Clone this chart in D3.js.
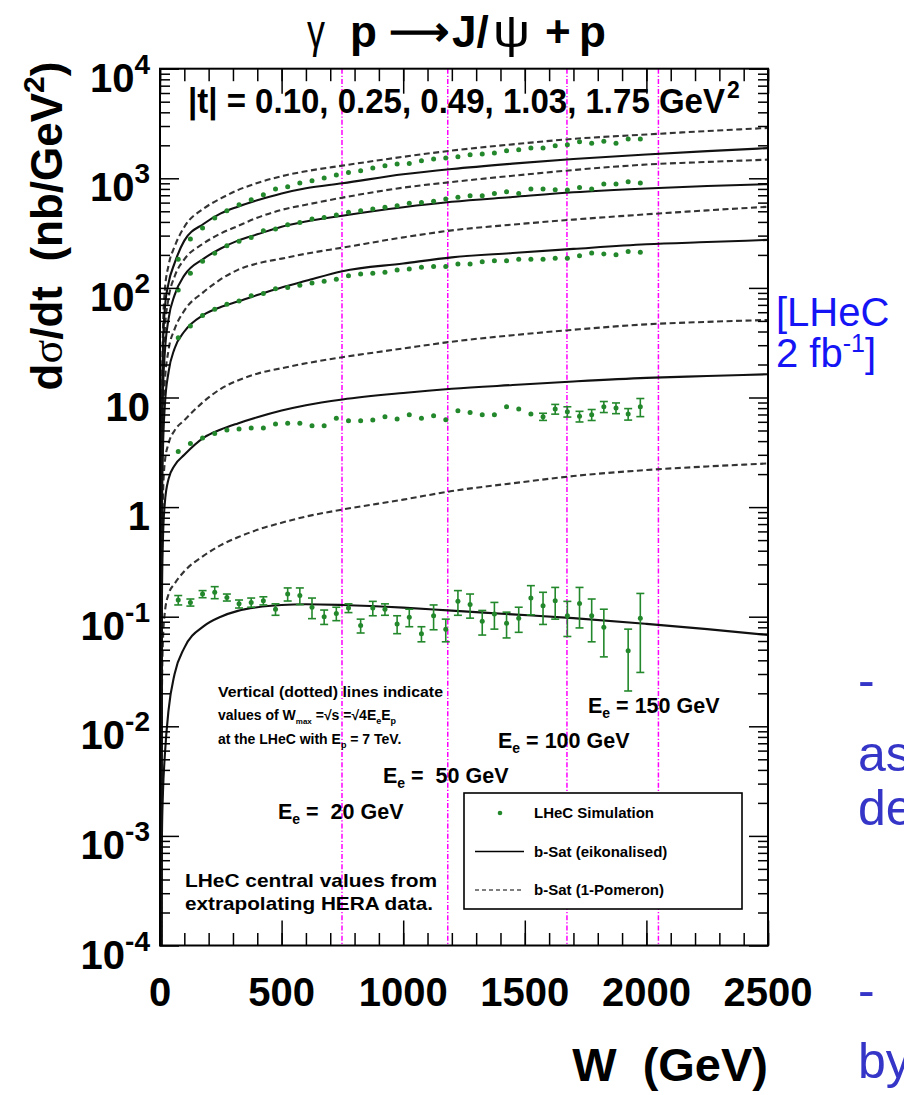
<!DOCTYPE html>
<html><head><meta charset="utf-8">
<script src="https://cdn.jsdelivr.net/npm/d3@7"></script>
<style>
body{margin:0;background:#fff}
svg{display:block}
text{font-family:"Liberation Sans",Arial,Helvetica,sans-serif}
</style>
</head><body>
<svg id="chart" width="904" height="1095"></svg>
<script>
// ---- data -------------------------------------------------------------
const tValues = [0.10, 0.25, 0.49, 1.03, 1.75];          // |t| in GeV^2
const beamEe = [20, 50, 100, 150];                       // electron beam energies (GeV)
const protonEp = 7000;                                   // proton beam energy (GeV)

// W grid (GeV) for the b-Sat model curves
const curveW = [4.5, 6, 8, 12, 20, 35, 60, 100, 180, 250, 320, 400, 500, 600, 750, 1000, 1200, 1450, 1700, 2000, 2250, 2500];

// b-Sat (1-Pomeron), dσ/dt in nb/GeV^2
const pomT010 = [2e-5, 0.5, 8, 40, 95, 160, 238, 360, 530, 655, 780, 905, 1045, 1160, 1305, 1570, 1790, 2040, 2290, 2510, 2700, 2880];
const pomT025 = [1e-5, 0.25, 4, 18, 42, 80, 127, 182, 255, 314, 367, 437, 515, 574, 666, 822, 925, 1055, 1190, 1335, 1410, 1480];
const pomT049 = [4e-6, 0.1, 1.5, 6, 14, 27, 42, 62, 92, 120, 146, 167, 185, 205, 233, 289, 335, 378, 420, 469, 510, 550];
const pomT103 = [1e-6, 0.02, 0.3, 1.2, 2.6, 3.8, 5.0, 6.2, 9.2, 12.0, 14.3, 16.5, 18.5, 20.5, 23.3, 28.0, 32.3, 37, 41.5, 46.5, 49, 51];
const pomT175 = [1e-7, 0.002, 0.02, 0.06, 0.11, 0.16, 0.2, 0.26, 0.36, 0.45, 0.53, 0.62, 0.72, 0.82, 0.95, 1.17, 1.40, 1.65, 1.92, 2.18, 2.35, 2.5];

// b-Sat (eikonalised)
const eikT010 = [1e-5, 0.3, 5, 28, 65, 110, 168, 270, 385, 478, 551, 630, 728, 812, 900, 1087, 1215, 1360, 1500, 1650, 1770, 1885];
const eikT025 = [5e-6, 0.15, 2.5, 11, 26, 52, 86, 130, 185, 229, 270, 308, 362, 404, 456, 544, 610, 675, 745, 808, 850, 885];
const eikT049 = [2e-6, 0.05, 0.8, 3.2, 8.5, 17, 28, 40, 57, 67, 75, 86, 101, 116, 142, 167, 190, 208, 227, 250, 262, 274];
const eikT103 = [5e-7, 0.01, 0.15, 0.5, 1.1, 1.8, 2.4, 3.0, 4.3, 5.1, 5.8, 6.6, 7.6, 8.5, 9.6, 11.0, 12.0, 13.0, 14.0, 15.1, 15.7, 16.3];
const eikT175 = [1e-7, 3e-4, 0.001, 0.0024, 0.0055, 0.014, 0.03, 0.052, 0.082, 0.1, 0.113, 0.122, 0.128, 0.13, 0.128, 0.121, 0.1135, 0.105, 0.097, 0.086, 0.077, 0.068];

// LHeC simulation: 50 GeV bins in W, bin centres (null = empty bin)
const simW = [75, 125, 175, 225, 275, 325, 375, 425, 475, 525, 575, 625, 675, 725, 775, 825, 875, 925, 975,
              1025, 1075, 1125, 1175, 1225, 1275, 1325, 1375, 1425, 1475, 1525, 1575, 1625, 1675, 1725, 1775, 1825, 1875, 1925, 1975];
const simT010 = [183, 279, 352, 434, 506, 574, 638, 708, 798, 838, 906, 951, 1005, 1071, 1132, 1173, 1241, 1303, 1350,
                 1368, 1448, 1500, 1531, 1574, 1642, 1665, 1700, 1785, 1824, 1888, 1888, 1983, 2026, 2160, 2084, 2175, 2084, 2282, 2282];
const simT025 = [95.6, 136, 175, 207, 243, 266, 289, 333, 345, 377, 396, 425, 440, 462, 489, 506, 524, 543, 563,
                 591, 603, 616, 647, 670, 694, 694, 728, 755, 728, 798, 798, 787, 781, 826, 798, 887, 887, 931, 906];
const simT049 = [35, 45, 56, 64, 71, 76, 85, 89, 98, 101, 106, 111, 115, 120, 129, 134, 136, 139, 146,
                 149, 154, 157, 157, 165, 165, 173, 177, 177, 183, 183, 183, 186, 186, 197, 208, 204, 201, 215, 211];
const simT103 = [3.22, 3.81, 4.27, 4.70, 5.05, 5.16, 5.27, 5.27, 5.73, 5.81, 5.81, 5.53, 5.53, 6.45, 6.14, 6.14, 6.23, 6.68, 6.36,
                 6.97, 6.45, 6.82, 6.27, 7.59, 7.31, 6.97, 6.97, 8.24, 7.85, 7.07, 6.68, 7.85, 7.43, 6.73, 6.97, 8.24, 8.02, 7.07, 8.24];
const errT103 = [0, 0, 0, 0, 0, 0, 0, 0, 0, 0, 0, 0, 0, 0, 0, 0, 0, 0, 0,
                 0, 0, 0, 0, 0, 0, 0, 0, 0, 0, 0.35, 0.5, 0.8, 0.8, 0.75, 0.8, 0.95, 0.9, 0.85, 1.55];
const simT175 = [0.142, 0.135, 0.161, 0.167, 0.150, 0.131, 0.135, 0.140, 0.117, 0.161, 0.156, 0.122, 0.100, 0.107, 0.120, 0.083, 0.120, 0.117, 0.086,
                 0.099, 0.070, 0.102, 0.077, 0.138, 0.129, 0.091, 0.106, 0.087, 0.097, 0.148, 0.126, 0.140, 0.102, 0.132, 0.102, 0.080, null, 0.049, 0.097];
const errT175 = [0.014, 0.010, 0.012, 0.021, 0.011, 0.011, 0.013, 0.012, 0.014, 0.022, 0.027, 0.026, 0.015, 0.015, 0.011, 0.012, 0.018, 0.014, 0.016,
                 0.018, 0.011, 0.026, 0.018, 0.035, 0.032, 0.023, 0.029, 0.023, 0.025, 0.044, 0.041, 0.045, 0.036, 0.053, 0.043, 0.037, null, 0.028, 0.066];

// axis ticks
const xTickValues = [0, 500, 1000, 1500, 2000, 2500];
const yDecades = [-4, -3, -2, -1, 0, 1, 2, 3, 4];

// ---- layout -----------------------------------------------------------
const svg = d3.select("#chart");
const frame = {left: 160, right: 768, top: 68.7, bottom: 945.5};
const x = d3.scaleLinear().domain([0, 2500]).range([frame.left, frame.right]);
const y = d3.scaleLog().domain([1e-4, 1e4]).range([frame.bottom, frame.top]);

svg.append("rect").attr("width", 904).attr("height", 1095).attr("fill", "#fff");

svg.append("defs").append("clipPath").attr("id", "plotClip")
  .append("rect").attr("x", frame.left).attr("y", frame.top)
  .attr("width", frame.right - frame.left).attr("height", frame.bottom - frame.top);

const plot = svg.append("g").attr("clip-path", "url(#plotClip)");

// Wmax = sqrt(4 Ee Ep) lines
plot.selectAll("line.wmax").data(beamEe).join("line").attr("class", "wmax")
  .attr("x1", d => x(Math.sqrt(4 * d * protonEp))).attr("x2", d => x(Math.sqrt(4 * d * protonEp)))
  .attr("y1", frame.top).attr("y2", frame.bottom)
  .attr("stroke", "#ff00ff").attr("stroke-width", 1.5).attr("stroke-dasharray", "5,2,1.2,2");

// model curves
const line = d3.line().x(d => x(d[0])).y(d => y(d[1])).curve(d3.curveMonotoneX);
const pomCurves = [pomT010, pomT025, pomT049, pomT103, pomT175];
const eikCurves = [eikT010, eikT025, eikT049, eikT103, eikT175];
pomCurves.forEach(vals => {
  plot.append("path").datum(curveW.map((w, i) => [w, vals[i]]))
    .attr("d", line).attr("fill", "none").attr("stroke", "#333")
    .attr("stroke-width", 2.1).attr("stroke-dasharray", "6,3.5");
});
eikCurves.forEach(vals => {
  plot.append("path").datum(curveW.map((w, i) => [w, vals[i]]))
    .attr("d", line).attr("fill", "none").attr("stroke", "#111")
    .attr("stroke-width", 2.1);
});

// simulated points
const green = "#23882b";
const simSeries = [
  {v: simT010, e: null}, {v: simT025, e: null}, {v: simT049, e: null},
  {v: simT103, e: errT103}, {v: simT175, e: errT175}
];
simSeries.forEach(s => {
  const pts = simW.map((w, i) => ({w, v: s.v[i], e: s.e ? s.e[i] : 0})).filter(p => p.v != null);
  const g = plot.append("g");
  pts.forEach(p => {
    if (!p.e) return;
    const yt = y(p.v + p.e), yb = y(Math.max(p.v - p.e, 1e-5));
    if (yb - yt < 6) return;
    const cx = x(p.w);
    g.append("line").attr("x1", cx).attr("x2", cx).attr("y1", yt).attr("y2", yb)
      .attr("stroke", green).attr("stroke-width", 1.6);
    [yt, yb].forEach(yy => g.append("line").attr("x1", cx - 4).attr("x2", cx + 4)
      .attr("y1", yy).attr("y2", yy).attr("stroke", green).attr("stroke-width", 1.6));
  });
  g.selectAll("circle").data(pts).join("circle")
    .attr("cx", d => x(d.w)).attr("cy", d => y(d.v)).attr("r", 2.5).attr("fill", green);
});

// ---- frame and ticks ---------------------------------------------------
const xMinor = d3.range(0, 2501, 100);
const yMinor = [];
yDecades.slice(0, -1).forEach(e => { for (let k = 2; k <= 9; k++) yMinor.push(k * Math.pow(10, e)); });
const yMajor = yDecades.map(e => Math.pow(10, e));

function styleAxis(g) {
  g.select(".domain").remove();
  g.selectAll(".tick line").attr("stroke", "#000").attr("stroke-width", 1.5);
}
svg.append("g").attr("transform", `translate(0,${frame.bottom})`)
  .call(d3.axisBottom(x).tickValues(xMinor).tickSize(-12.5).tickFormat("")).call(styleAxis);
svg.append("g").attr("transform", `translate(0,${frame.bottom})`)
  .call(d3.axisBottom(x).tickValues(xTickValues).tickSize(-25).tickFormat("")).call(styleAxis);
svg.append("g").attr("transform", `translate(0,${frame.top})`)
  .call(d3.axisTop(x).tickValues(xMinor).tickSize(-12.5).tickFormat("")).call(styleAxis);
svg.append("g").attr("transform", `translate(0,${frame.top})`)
  .call(d3.axisTop(x).tickValues(xTickValues).tickSize(-25).tickFormat("")).call(styleAxis);
svg.append("g").attr("transform", `translate(${frame.left},0)`)
  .call(d3.axisLeft(y).tickValues(yMinor).tickSize(-10).tickFormat("")).call(styleAxis);
svg.append("g").attr("transform", `translate(${frame.left},0)`)
  .call(d3.axisLeft(y).tickValues(yMajor).tickSize(-19).tickFormat("")).call(styleAxis);
svg.append("g").attr("transform", `translate(${frame.right},0)`)
  .call(d3.axisRight(y).tickValues(yMinor).tickSize(-10).tickFormat("")).call(styleAxis);
svg.append("g").attr("transform", `translate(${frame.right},0)`)
  .call(d3.axisRight(y).tickValues(yMajor).tickSize(-19).tickFormat("")).call(styleAxis);

svg.append("rect").attr("x", frame.left).attr("y", frame.top)
  .attr("width", frame.right - frame.left).attr("height", frame.bottom - frame.top)
  .attr("fill", "none").attr("stroke", "#000").attr("stroke-width", 2);

// ---- tick labels -------------------------------------------------------
const labelFont = 40;
svg.append("g").selectAll("text").data(xTickValues).join("text")
  .attr("x", d => x(d)).attr("y", 1006).attr("text-anchor", "middle")
  .attr("font-size", labelFont).attr("font-weight", "bold").text(d => d);

const yl = svg.append("g");
yDecades.forEach(e => {
  const t = yl.append("text").attr("x", 150).attr("y", y(Math.pow(10, e)) + 23)
    .attr("text-anchor", "end").attr("font-size", labelFont).attr("font-weight", "bold");
  if (e === 0) t.text("1");
  else if (e === 1) t.text("10");
  else {
    t.append("tspan").text("10");
    t.append("tspan").attr("dy", -18).attr("font-size", 28).text(e);
  }
});

// ---- titles ------------------------------------------------------------
// reaction title, each symbol placed on its own
const titleParts = [
  {s: "γ", at: 307, serif: true, len: 18},
  {s: "p", at: 350},
  {s: "J/", at: 452},
  {s: "ψ", at: 493, serif: true, len: 37},
  {s: "+", at: 545},
  {s: "p", at: 579}
];
const tg = svg.append("g");
titleParts.forEach(p => {
  const t = tg.append("text").attr("x", p.at).attr("y", 47).attr("font-size", 44)
    .attr("font-weight", p.serif ? "normal" : "bold").text(p.s);
  if (p.serif) t.attr("font-family", "Liberation Serif").attr("font-size", 46)
    .attr("textLength", p.len).attr("lengthAdjust", "spacingAndGlyphs");
});
// reaction arrow (long arrow glyph)
tg.append("text").attr("x", 389).attr("y", 45).attr("font-family", "DejaVu Sans")
  .attr("font-weight", "bold").attr("font-size", 40)
  .attr("textLength", 60).attr("lengthAdjust", "spacingAndGlyphs").text("⟶");

const tt = svg.append("text").attr("x", 188).attr("y", 113).attr("font-size", 35).attr("font-weight", "bold")
  .attr("textLength", 537).attr("lengthAdjust", "spacingAndGlyphs");
tt.append("tspan").text("|t| = " + tValues.map(d => d.toFixed(2)).join(", ") + " GeV");
svg.append("text").attr("x", 727).attr("y", 98).attr("font-size", 23).attr("font-weight", "bold").text("2");

const yt = svg.append("text").attr("transform", "translate(62,226) rotate(-90)")
  .attr("text-anchor", "middle").attr("font-size", 44).attr("font-weight", "bold");
yt.append("tspan").text("d");
yt.append("tspan").attr("font-family", "Liberation Serif").attr("font-weight", "normal").text("σ");
yt.append("tspan").text("/dt\u00a0 (nb/GeV");
yt.append("tspan").attr("dy", -18).attr("font-size", 30).text("2");
yt.append("tspan").attr("dy", 18).text(")");

svg.append("text").attr("x", 768).attr("y", 1081).attr("text-anchor", "end")
  .attr("font-size", 47).attr("font-weight", "bold").text("W\u00a0 (GeV)");

// ---- annotations -------------------------------------------------------
const note = svg.append("g").attr("font-size", 14).attr("font-weight", "bold");
note.append("text").attr("x", 218).attr("y", 697).attr("textLength", 225).attr("lengthAdjust", "spacingAndGlyphs")
  .text("Vertical (dotted) lines indicate");
const n2 = note.append("text").attr("x", 218).attr("y", 720);
n2.append("tspan").text("values of W");
n2.append("tspan").attr("dy", 4).attr("font-size", 8).text("max");
n2.append("tspan").attr("dy", -4).text(" =√s =√4E");
n2.append("tspan").attr("dy", 4).attr("font-size", 9).text("e");
n2.append("tspan").attr("dy", -4).text("E");
n2.append("tspan").attr("dy", 4).attr("font-size", 9).text("p");
const n3 = note.append("text").attr("x", 218).attr("y", 744);
n3.append("tspan").text("at the LHeC with E");
n3.append("tspan").attr("dy", 4).attr("font-size", 9).text("p");
n3.append("tspan").attr("dy", -4).text(" = 7 TeV.");

function eeLabel(xp, yp, txt) {
  const t = svg.append("text").attr("x", xp).attr("y", yp).attr("font-size", 21.5).attr("font-weight", "bold");
  t.append("tspan").text("E");
  t.append("tspan").attr("dy", 5).attr("font-size", 14).text("e");
  t.append("tspan").attr("dy", -5).text(txt);
}
eeLabel(588, 713, " = " + beamEe[3] + " GeV");
eeLabel(498, 748, " = " + beamEe[2] + " GeV");
eeLabel(383, 783, " =\u00a0 " + beamEe[1] + " GeV");
eeLabel(278, 819, " =\u00a0 " + beamEe[0] + " GeV");

svg.append("text").attr("x", 185).attr("y", 887).attr("font-size", 19).attr("font-weight", "bold")
  .attr("textLength", 252).attr("lengthAdjust", "spacingAndGlyphs").text("LHeC central values from");
svg.append("text").attr("x", 185).attr("y", 910).attr("font-size", 19).attr("font-weight", "bold")
  .attr("textLength", 248).attr("lengthAdjust", "spacingAndGlyphs").text("extrapolating HERA data.");

// ---- legend ------------------------------------------------------------
const lg = svg.append("g");
lg.append("rect").attr("x", 464).attr("y", 793).attr("width", 278).attr("height", 116)
  .attr("fill", "#fff").attr("stroke", "#000").attr("stroke-width", 1.6);
lg.append("circle").attr("cx", 500).attr("cy", 813).attr("r", 2.3).attr("fill", green);
lg.append("line").attr("x1", 475).attr("x2", 524).attr("y1", 851.5).attr("y2", 851.5)
  .attr("stroke", "#000").attr("stroke-width", 1.5);
lg.append("line").attr("x1", 475).attr("x2", 524).attr("y1", 890).attr("y2", 890)
  .attr("stroke", "#000").attr("stroke-width", 1.2).attr("stroke-dasharray", "4,3");
const legText = ["LHeC Simulation", "b-Sat (eikonalised)", "b-Sat (1-Pomeron)"];
[818, 857, 895].forEach((yy, i) => lg.append("text").attr("x", 534).attr("y", yy)
  .attr("font-size", 15).attr("font-weight", "bold").text(legText[i]));

// ---- side text ---------------------------------------------------------
const side = svg.append("g").attr("font-family", "'DejaVu Sans',Verdana,sans-serif");
side.append("text").attr("x", 776).attr("y", 326).attr("font-size", 40).attr("fill", "#1414f5").text("[LHeC");
const fb = side.append("text").attr("x", 776).attr("y", 367).attr("font-size", 40).attr("fill", "#1414f5");
fb.append("tspan").text("2 fb");
fb.append("tspan").attr("dy", -15).attr("font-size", 25).text("-1");
fb.append("tspan").attr("dy", 15).text("]");
const slate = "#3535c8";
side.append("text").attr("x", 858).attr("y", 697).attr("font-size", 50).attr("fill", slate).text("-");
side.append("text").attr("x", 858).attr("y", 771).attr("font-size", 50).attr("fill", slate).text("as");
side.append("text").attr("x", 858).attr("y", 825).attr("font-size", 50).attr("fill", slate).text("de");
side.append("text").attr("x", 858).attr("y", 1007).attr("font-size", 50).attr("fill", slate).text("-");
side.append("text").attr("x", 858).attr("y", 1078).attr("font-size", 50).attr("fill", slate).text("by");
</script>
</body></html>
